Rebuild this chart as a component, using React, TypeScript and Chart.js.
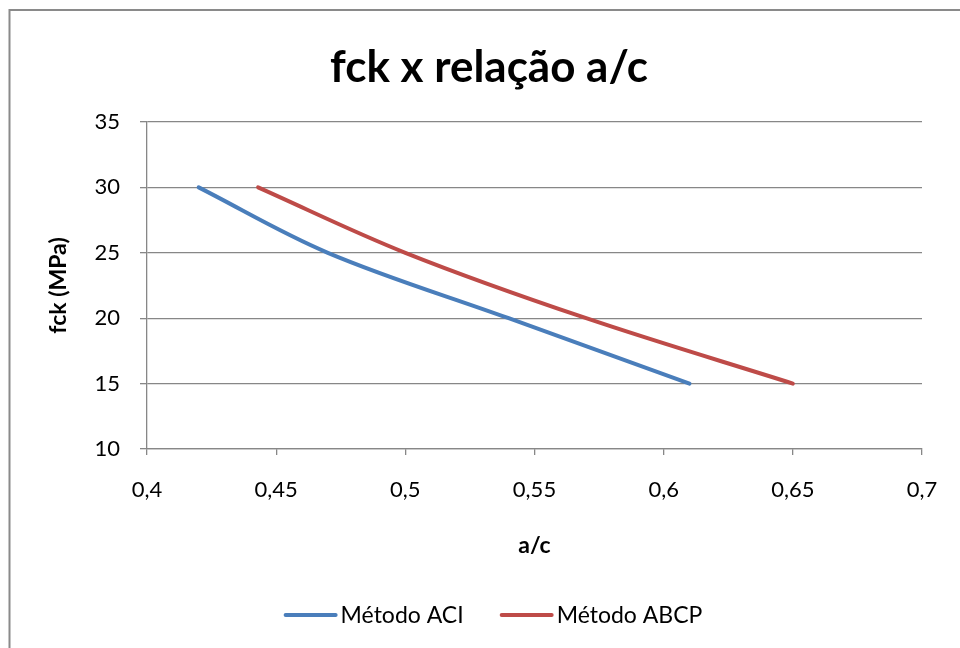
import { useEffect, useRef } from 'react';
import { Chart, registerables } from 'chart.js';

Chart.register(...registerables);

const chartTitle = 'fck x relação a/c';
const xAxisTitle = 'a/c';
const yAxisTitle = 'fck (MPa)';
const seriesNames = ['Método ACI', 'Método ABCP'];
const seriesColors = ['#4A7EBB', '#BE4B48'];
const aciWaterCement = [0.42, 0.47, 0.54, 0.61];
const aciFck = [30, 25, 20, 15];
const abcpWaterCement = [0.443, 0.5, 0.57, 0.65];
const abcpFck = [30, 25, 20, 15];
const xTicks = [0.4, 0.45, 0.5, 0.55, 0.6, 0.65, 0.7];
const yTicks = [10, 15, 20, 25, 30, 35];

const FONT = 'Lato, "Open Sans", sans-serif';
const GRID = '#878787';

const fmt = (v: number) => String(Math.round(v * 100) / 100).replace('.', ',');

const framePlugin = {
  id: 'frame',
  beforeDraw(chart: any) {
    const ctx = chart.ctx;
    ctx.save();
    ctx.fillStyle = '#ffffff';
    ctx.fillRect(0, 0, chart.width, chart.height);
    ctx.strokeStyle = '#8a8a8a';
    ctx.lineWidth = 2;
    ctx.strokeRect(9.5, 10, 1100, 1100);
    ctx.restore();
  },
  afterDraw(chart: any) {
    const ctx = chart.ctx;
    ctx.save();
    let size = 100;
    ctx.font = `bold ${size}px ${FONT}`;
    const w = ctx.measureText(chartTitle).width;
    size = (size * 318) / w;
    ctx.font = `bold ${size}px ${FONT}`;
    ctx.fillStyle = '#000';
    ctx.textAlign = 'center';
    ctx.textBaseline = 'alphabetic';
    ctx.fillText(chartTitle, 489, 82);

    ctx.font = `23px ${FONT}`;
    const lineLen = 54;
    const gap = 3;
    const itemGap = 36;
    const widths = seriesNames.map((n) => ctx.measureText(n).width);
    const total = widths.reduce((a, b) => a + b, 0) + seriesNames.length * (lineLen + gap) + itemGap * (seriesNames.length - 1);
    let x = 493 - total / 2;
    const ly = 615;
    ctx.textAlign = 'left';
    seriesNames.forEach((n, i) => {
      ctx.strokeStyle = seriesColors[i];
      ctx.lineWidth = 4;
      ctx.lineCap = 'round';
      ctx.beginPath();
      ctx.moveTo(x + 2, ly);
      ctx.lineTo(x + lineLen - 2, ly);
      ctx.stroke();
      x += lineLen + gap;
      ctx.fillStyle = '#000';
      ctx.fillText(n, x, 623);
      x += widths[i] + itemGap;
    });
    ctx.restore();
  },
};

export default function App() {
  const ref = useRef<HTMLCanvasElement | null>(null);
  useEffect(() => {
    if (!ref.current) return;
    const chart = new Chart(ref.current, {
      type: 'scatter',
      data: {
        datasets: [
          {
            label: seriesNames[0],
            data: aciWaterCement.map((x, i) => ({ x, y: aciFck[i] })),
            showLine: true,
            borderColor: seriesColors[0],
            backgroundColor: seriesColors[0],
            borderWidth: 4,
            borderCapStyle: 'round',
            pointRadius: 0,
            tension: 0.35,
          },
          {
            label: seriesNames[1],
            data: abcpWaterCement.map((x, i) => ({ x, y: abcpFck[i] })),
            showLine: true,
            borderColor: seriesColors[1],
            backgroundColor: seriesColors[1],
            borderWidth: 4,
            borderCapStyle: 'round',
            pointRadius: 0,
            tension: 0.35,
          },
        ],
      } as any,
      options: {
        animation: false,
        responsive: false,
        devicePixelRatio: 1,
        layout: { padding: { top: 122, left: 0, right: 38, bottom: 79 } },
        plugins: {
          legend: { display: false },
          title: { display: false },
          tooltip: { enabled: false },
        },
        scales: {
          x: {
            type: 'linear',
            min: 0.4,
            max: 0.7,
            afterBuildTicks: (s: any) => {
              s.ticks = xTicks.map((v) => ({ value: v }));
            },
            afterFit: (s: any) => {
              s.height = 120;
            },
            grid: { drawOnChartArea: false, drawTicks: true, tickLength: 6, color: GRID, lineWidth: 1.3 },
            border: { color: GRID, width: 1.3 },
            ticks: {
              padding: 22,
              color: '#000',
              font: { family: FONT, size: 22 },
              callback: (v: any) => fmt(Number(v)),
              maxRotation: 0,
              autoSkip: false,
            },
            title: {
              display: true,
              text: xAxisTitle,
              color: '#000',
              font: { family: FONT, size: 23, weight: 'bold' },
              padding: { top: 0, bottom: 10 },
            },
          },
          y: {
            type: 'linear',
            min: 10,
            max: 35,
            afterBuildTicks: (s: any) => {
              s.ticks = yTicks.map((v) => ({ value: v }));
            },
            afterFit: (s: any) => {
              s.width = 147;
            },
            grid: { drawTicks: true, tickLength: 7, color: GRID, lineWidth: 1.3 },
            border: { color: GRID, width: 1.3 },
            ticks: {
              padding: 20,
              color: '#000',
              font: { family: FONT, size: 22 },
              callback: (v: any) => fmt(Number(v)),
              autoSkip: false,
            },
            title: {
              display: true,
              text: yAxisTitle,
              color: '#000',
              font: { family: FONT, size: 23, weight: 'bold' },
              padding: { top: 45, bottom: 0 },
            },
          },
        },
      } as any,
      plugins: [framePlugin],
    });
    return () => chart.destroy();
  }, []);
  return (
    <div style={{ position: 'fixed', left: 0, top: 0, width: 960, height: 648 }}>
      <canvas ref={ref} width={960} height={648} style={{ display: 'block' }} />
    </div>
  );
}
